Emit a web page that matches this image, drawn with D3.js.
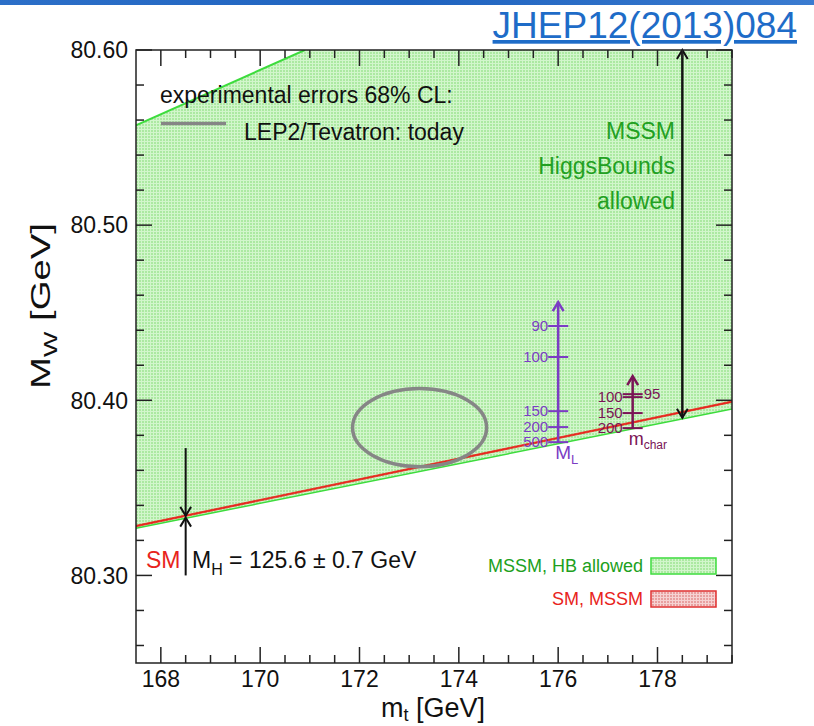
<!DOCTYPE html>
<html>
<head>
<meta charset="utf-8">
<script src="https://cdn.jsdelivr.net/npm/d3@7"></script>
<style>
  html, body { margin: 0; padding: 0; background: #fff; }
  svg { display: block; font-family: "Liberation Sans", Arial, Helvetica, sans-serif; }
</style>
</head>
<body>
<svg id="chart" width="814" height="726"></svg>
<script>
// ---- data ----
const xDomain = [167.5, 179.5];
const yDomain = [80.25, 80.60];
const xMajorTicks = [168, 170, 172, 174, 176, 178];
const xMinorTicks = d3.range(168, 179.6, 0.5);
const yMajorTicks = [80.30, 80.40, 80.50, 80.60];
const yMinorTicks = d3.range(80.26, 80.601, 0.02);

// MSSM region allowed by HiggsBounds (m_t, M_W)
const mssmRegion = [[167.5, 80.557], [170.9, 80.60], [179.5, 80.60], [179.5, 80.395], [167.5, 80.327]];
const mssmUpperEdge = [[167.5, 80.557], [170.9, 80.60]];
const mssmLowerEdge = [[167.5, 80.327], [179.5, 80.395]];
// SM prediction for M_H = 125.6 +- 0.7 GeV
const smBandUpper = [[167.5, 80.3286], [179.5, 80.3996]];
const smBandLower = [[167.5, 80.3278], [179.5, 80.3988]];

// LEP2/Tevatron 68% CL ellipse: centre and semi-axes
const expCentre = [173.21, 80.3844];
const expSemiAxes = [1.35, 0.0223];

// M_L scan along the SM line
const mlScaleMt = 176.0;
const mlScaleTop = 80.456;
const mlTicks = [
  { label: "90", mw: 80.4424 },
  { label: "100", mw: 80.4247 },
  { label: "150", mw: 80.3938 },
  { label: "200", mw: 80.3847 },
  { label: "500", mw: 80.3761 }
];
// m_char scan
const mcharScaleMt = 177.5;
const mcharScaleTop = 80.4138;
const mcharTicks = [
  { label: "95", mw: 80.4035, side: "right" },
  { label: "100", mw: 80.4018, side: "left" },
  { label: "150", mw: 80.3927, side: "left" },
  { label: "200", mw: 80.3841, side: "left" }
];

// arrows
const hbArrow = { mt: 178.5, from: 80.390, to: 80.60 };
const smArrowDown = { mt: 168.5, from: 80.3727, to: 80.3340 };
const smArrowUp = { mt: 168.5, from: 80.300, to: 80.3330 };

// ---- layout ----
const svg = d3.select("#chart");
const plot = { left: 136, right: 732, top: 50, bottom: 663 };
const x = d3.scaleLinear().domain(xDomain).range([plot.left, plot.right]);
const y = d3.scaleLinear().domain(yDomain).range([plot.bottom, plot.top]);

const defs = svg.append("defs");
// fine dotted texture of the filled regions
function texture(id, base, grid) {
  const p = defs.append("pattern").attr("id", id)
    .attr("patternUnits", "userSpaceOnUse").attr("width", 3).attr("height", 3);
  p.append("rect").attr("width", 3).attr("height", 3).attr("fill", base);
  p.append("rect").attr("x", 0).attr("y", 0).attr("width", 3).attr("height", 1).attr("fill", grid);
  p.append("rect").attr("x", 0).attr("y", 0).attr("width", 1).attr("height", 3).attr("fill", grid);
}
texture("greenTex", "#ace9a2", "#d2f6cc");
texture("redTex", "#e8a0a0", "#f6d2d2");
defs.append("clipPath").attr("id", "plotClip").append("rect")
  .attr("x", plot.left).attr("y", plot.top)
  .attr("width", plot.right - plot.left).attr("height", plot.bottom - plot.top);

// top banner stripe
const bannerGrad = defs.append("linearGradient").attr("id", "banner").attr("x1", 0).attr("x2", 1);
bannerGrad.append("stop").attr("offset", 0).attr("stop-color", "#2c6fc8");
bannerGrad.append("stop").attr("offset", 0.5).attr("stop-color", "#1f63bf");
bannerGrad.append("stop").attr("offset", 1).attr("stop-color", "#3a7bd0");
svg.append("rect").attr("x", 0).attr("y", 0).attr("width", 814).attr("height", 5).attr("fill", "url(#banner)");

// reference link
svg.append("text").attr("x", 797).attr("y", 38).attr("text-anchor", "end")
  .attr("font-size", 37).attr("fill", "#1e6cc8")
  .attr("text-decoration", "underline")
  .text("JHEP12(2013)084");

const line = d3.line().x(d => x(d[0])).y(d => y(d[1]));
const g = svg.append("g").attr("clip-path", "url(#plotClip)");

// MSSM allowed area
g.append("path").datum(mssmRegion).attr("d", d => line(d) + "Z").attr("fill", "url(#greenTex)");
g.append("path").datum(mssmUpperEdge).attr("d", line).attr("fill", "none").attr("stroke", "#3ddc3d").attr("stroke-width", 2);
g.append("path").datum(mssmLowerEdge).attr("d", line).attr("fill", "none").attr("stroke", "#3ddc3d").attr("stroke-width", 1.5);
// SM band
g.append("path").datum(smBandUpper.concat(smBandLower.slice().reverse()))
  .attr("d", d => line(d) + "Z").attr("fill", "#e8241c").attr("stroke", "#e8241c").attr("stroke-width", 0.8);

// experimental ellipse
g.append("ellipse")
  .attr("cx", x(expCentre[0])).attr("cy", y(expCentre[1]))
  .attr("rx", x(expCentre[0] + expSemiAxes[0]) - x(expCentre[0]))
  .attr("ry", y(expCentre[1]) - y(expCentre[1] + expSemiAxes[1]))
  .attr("fill", "none").attr("stroke", "#868686").attr("stroke-width", 3.5);

// arrow helper: shaft with open chevron head at the "to" end
function arrow(parent, mt, from, to, color, width, head) {
  const xp = x(mt), y0 = y(from), y1 = y(to);
  const dir = y1 < y0 ? 1 : -1;
  parent.append("line").attr("x1", xp).attr("x2", xp).attr("y1", y0).attr("y2", y1)
    .attr("stroke", color).attr("stroke-width", width);
  parent.append("path")
    .attr("d", `M${xp - head * 0.6},${y1 + dir * head} L${xp},${y1} L${xp + head * 0.6},${y1 + dir * head}`)
    .attr("fill", "none").attr("stroke", color).attr("stroke-width", width).attr("stroke-linejoin", "miter");
}

// HiggsBounds double arrow
const ag = svg.append("g");
arrow(ag, hbArrow.mt, hbArrow.from, hbArrow.to, "#111", 2, 9);
arrow(ag, hbArrow.mt, hbArrow.to, hbArrow.from, "#111", 2, 9);
// SM arrows
arrow(ag, smArrowDown.mt, smArrowDown.from, smArrowDown.to, "#111", 2, 9);
arrow(ag, smArrowUp.mt, smArrowUp.from, smArrowUp.to, "#111", 2, 9);

// M_L scale
const purple = "#7b3cc4";
const mlG = svg.append("g");
arrow(mlG, mlScaleMt, d3.min(mlTicks, d => d.mw), mlScaleTop, purple, 2.5, 9);
mlTicks.forEach(t => {
  mlG.append("line").attr("x1", x(mlScaleMt) - 10).attr("x2", x(mlScaleMt) + 10)
    .attr("y1", y(t.mw)).attr("y2", y(t.mw)).attr("stroke", purple).attr("stroke-width", 2);
  mlG.append("text").attr("x", x(mlScaleMt) - 10).attr("y", y(t.mw)).attr("dy", "0.35em")
    .attr("text-anchor", "end").attr("font-size", 15).attr("fill", purple).text(t.label);
});
const mlLab = mlG.append("text").attr("x", x(mlScaleMt) - 3).attr("y", y(d3.min(mlTicks, d => d.mw)) + 17)
  .attr("font-size", 19).attr("fill", purple);
mlLab.append("tspan").text("M");
mlLab.append("tspan").attr("font-size", 13).attr("dy", 5).text("L");

// m_char scale
const maroon = "#7a1456";
const mcG = svg.append("g");
arrow(mcG, mcharScaleMt, d3.min(mcharTicks, d => d.mw), mcharScaleTop, maroon, 2.5, 9);
mcharTicks.forEach(t => {
  mcG.append("line").attr("x1", x(mcharScaleMt) - 10).attr("x2", x(mcharScaleMt) + 10)
    .attr("y1", y(t.mw)).attr("y2", y(t.mw)).attr("stroke", maroon).attr("stroke-width", 2);
  const right = t.side === "right";
  mcG.append("text").attr("x", x(mcharScaleMt) + (right ? 11 : -10)).attr("y", y(t.mw)).attr("dy", "0.35em")
    .attr("text-anchor", right ? "start" : "end").attr("font-size", 15).attr("fill", maroon).text(t.label);
});
const mcLab = mcG.append("text").attr("x", x(mcharScaleMt) - 4).attr("y", y(d3.min(mcharTicks, d => d.mw)) + 17)
  .attr("font-size", 18).attr("fill", maroon);
mcLab.append("tspan").text("m");
mcLab.append("tspan").attr("font-size", 12).attr("dy", 4).text("char");

// frame and ticks (inward)
const axG = svg.append("g").attr("stroke", "#222").attr("stroke-width", 1.5);
axG.append("rect").attr("x", plot.left).attr("y", plot.top)
  .attr("width", plot.right - plot.left).attr("height", plot.bottom - plot.top).attr("fill", "none");
xMinorTicks.forEach(v => {
  const len = xMajorTicks.includes(v) ? 16 : 8;
  axG.append("line").attr("x1", x(v)).attr("x2", x(v)).attr("y1", plot.bottom).attr("y2", plot.bottom - len);
  axG.append("line").attr("x1", x(v)).attr("x2", x(v)).attr("y1", plot.top).attr("y2", plot.top + len);
});
yMinorTicks.forEach(v => {
  const major = yMajorTicks.some(m => Math.abs(m - v) < 1e-6);
  const len = major ? 16 : 8;
  axG.append("line").attr("y1", y(v)).attr("y2", y(v)).attr("x1", plot.left).attr("x2", plot.left + len);
  axG.append("line").attr("y1", y(v)).attr("y2", y(v)).attr("x1", plot.right).attr("x2", plot.right - len);
});

// tick labels
svg.append("g").selectAll("text").data(xMajorTicks).join("text")
  .attr("x", d => x(d)).attr("y", plot.bottom + 24).attr("text-anchor", "middle")
  .attr("font-size", 23).attr("fill", "#111").text(d => d);
svg.append("g").selectAll("text").data(yMajorTicks).join("text")
  .attr("x", plot.left - 8).attr("y", d => y(d)).attr("dy", "0.36em").attr("text-anchor", "end")
  .attr("font-size", 23).attr("fill", "#111").text(d => d.toFixed(2));

// axis titles
const xt = svg.append("text").attr("x", 433).attr("y", 717).attr("text-anchor", "middle")
  .attr("font-size", 27).attr("fill", "#111");
xt.append("tspan").text("m");
xt.append("tspan").attr("font-size", 18).attr("dy", 4).text("t");
xt.append("tspan").attr("dy", -4).text(" [GeV]");
const yt = svg.append("text").attr("transform", "translate(50,306) rotate(-90)").attr("text-anchor", "middle")
  .attr("font-size", 27).attr("fill", "#111")
  .attr("textLength", 166).attr("lengthAdjust", "spacingAndGlyphs");
yt.append("tspan").text("M");
yt.append("tspan").attr("font-size", 19).attr("dy", 7).text("W");
yt.append("tspan").attr("dy", -7).text(" [GeV]");

// experimental legend
svg.append("text").attr("x", 160).attr("y", 103).attr("font-size", 23).attr("fill", "#111")
  .text("experimental errors 68% CL:");
svg.append("line").attr("x1", 161).attr("x2", 226).attr("y1", y(80.558)).attr("y2", y(80.558))
  .attr("stroke", "#868686").attr("stroke-width", 3.5);
svg.append("text").attr("x", 244).attr("y", 140).attr("font-size", 23).attr("fill", "#111")
  .text("LEP2/Tevatron: today");

// MSSM HiggsBounds annotation
const green = "#22a022";
["MSSM", "HiggsBounds", "allowed"].forEach((s, i) => {
  svg.append("text").attr("x", 675).attr("y", 139 + i * 35).attr("text-anchor", "end")
    .attr("font-size", 23).attr("fill", green).text(s);
});

// SM label
svg.append("text").attr("x", 146).attr("y", 568).attr("font-size", 23).attr("fill", "#e8241c").text("SM");
const mh = svg.append("text").attr("x", 192).attr("y", 568).attr("font-size", 23).attr("fill", "#111");
mh.append("tspan").text("M");
mh.append("tspan").attr("font-size", 16).attr("dy", 7).text("H");
mh.append("tspan").attr("dy", -7).text(" = 125.6 \u00b1 0.7 GeV");

// bottom-right legend
const legend = [
  { label: "MSSM, HB allowed", color: "#20a020", fill: "url(#greenTex)", stroke: "#3ddc3d" },
  { label: "SM, MSSM", color: "#e8241c", fill: "url(#redTex)", stroke: "#e03030" }
];
legend.forEach((l, i) => {
  const cy = 566 + i * 33;
  svg.append("rect").attr("x", 651).attr("y", cy - 8).attr("width", 65).attr("height", 16)
    .attr("fill", l.fill).attr("stroke", l.stroke).attr("stroke-width", 1.5);
  svg.append("text").attr("x", 643).attr("y", cy).attr("dy", "0.36em").attr("text-anchor", "end")
    .attr("font-size", 18).attr("fill", l.color).text(l.label);
});
</script>
</body>
</html>
